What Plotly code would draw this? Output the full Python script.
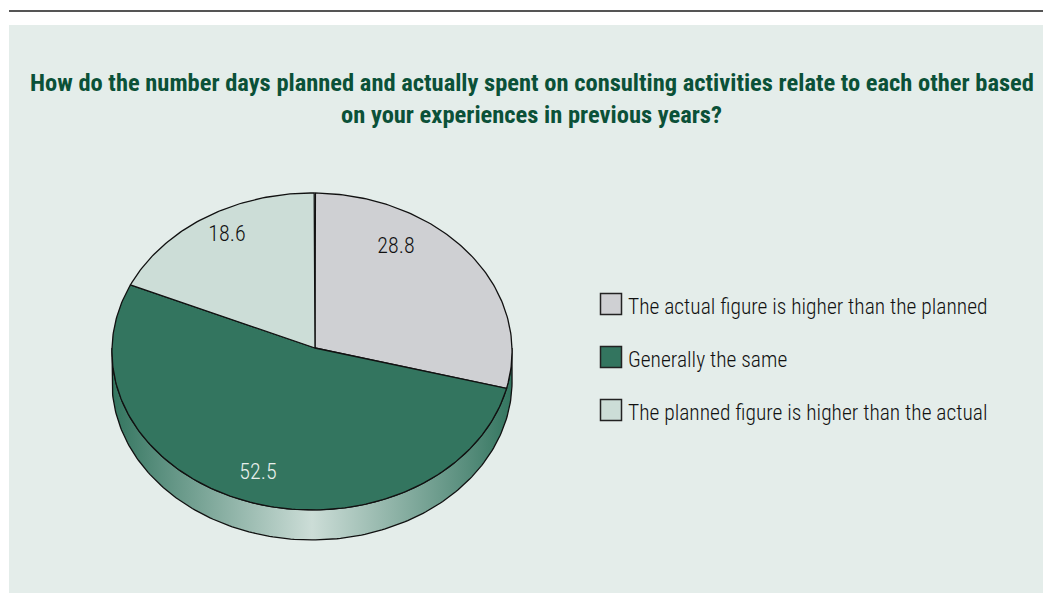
import math
import plotly.graph_objects as go

# Survey results, in percent
categories = [
    "The actual figure is higher than the planned",
    "Generally the same",
    "The planned figure is higher than the actual",
]
values = [28.8, 52.5, 18.6]
slice_colors = ["#CFD0D3", "#33755F", "#CCDDD7"]
label_colors = ["#111111", "#E8EFEC", "#111111"]
title_lines = [
    "How do the number days planned and actually spent on consulting activities relate to each other based",
    "on your experiences in previous years?",
]

# Canvas geometry of the tilted disc (axes run in canvas units)
W, H = 1043, 593
CX, CY = 312, 348
APEX = (315, 348)
RX, RY = 200, 158.4
TILT = 0.022
DEPTH = 30
START_DEG = 1.0
LABEL_XY = [(396, 247), (258, 473), (227, 235)]
LEGEND_X = 611
LEGEND_Y = [304, 357, 410]
TEXT_DROP = 4.5
INK = "#111111"
FONT = "Roboto Condensed"


def rim(theta_deg):
    """Point on the disc's rim; the angle runs clockwise from twelve o'clock."""
    t = math.radians(theta_deg)
    u, v = math.sin(t), -math.cos(t)
    w = 1 - TILT * v
    return CX + RX * u / w, CY + RY * v / w


def arc(a0, a1, step=1.0):
    n = max(2, int(abs(a1 - a0) / step) + 1)
    return [rim(a0 + (a1 - a0) * i / (n - 1)) for i in range(n)]


fig = go.Figure()

# Side wall of the disc, front half only
top_edge = arc(90, 270)
wall = top_edge + [(x, y + DEPTH) for x, y in reversed(top_edge)]
fig.add_trace(go.Scatter(
    x=[p[0] for p in wall] + [wall[0][0]],
    y=[p[1] for p in wall] + [wall[0][1]],
    mode="lines",
    fill="toself",
    fillgradient=dict(
        type="horizontal",
        colorscale=[[0, "#33755F"], [0.12, "#5A8F7E"], [0.5, "#CCDDD7"],
                    [0.88, "#5A8F7E"], [1, "#33755F"]],
    ),
    line=dict(color=INK, width=1.3),
    hoverinfo="skip",
    showlegend=False,
))

# Top face: one wedge per category, sized by its percentage
angle = START_DEG
for name, value, color in zip(categories, values, slice_colors):
    sweep = value * 3.6
    edge = arc(angle, angle + sweep)
    pts = [APEX] + edge + [APEX]
    fig.add_trace(go.Scatter(
        x=[p[0] for p in pts],
        y=[p[1] for p in pts],
        mode="lines",
        fill="toself",
        fillcolor=color,
        line=dict(color=INK, width=1.3),
        name=name,
        hoverinfo="name",
        showlegend=False,
    ))
    angle += sweep

# Value labels
fig.add_trace(go.Scatter(
    x=[p[0] for p in LABEL_XY],
    y=[p[1] for p in LABEL_XY],
    mode="text",
    text=[f"{v}" for v in values],
    textposition="middle center",
    textfont=dict(family=FONT, size=22, weight=300, color=label_colors),
    hoverinfo="skip",
    showlegend=False,
))

# Key to the right of the disc
fig.add_trace(go.Scatter(
    x=[LEGEND_X] * len(categories),
    y=LEGEND_Y,
    mode="markers",
    marker=dict(symbol="square", size=21, color=slice_colors,
                line=dict(color="#222222", width=1.5)),
    hoverinfo="skip",
    showlegend=False,
))
fig.add_trace(go.Scatter(
    x=[LEGEND_X + 17] * len(categories),
    y=[y + TEXT_DROP for y in LEGEND_Y],
    mode="text",
    text=categories,
    textposition="middle right",
    textfont=dict(family=FONT, size=21.5, weight=300, color="#111111"),
    hoverinfo="skip",
    showlegend=False,
))

for i, line in enumerate(title_lines):
    fig.add_annotation(
        x=531.5, y=82 + 32 * i, xref="x", yref="y",
        text=f"<b>{line}</b>", showarrow=False,
        xanchor="center", yanchor="middle",
        font=dict(family=FONT, size=24.5, color="#0B5138"),
    )

fig.update_layout(
    width=W, height=H,
    margin=dict(l=0, r=0, t=0, b=0),
    paper_bgcolor="white",
    plot_bgcolor="white",
    showlegend=False,
    xaxis=dict(range=[0, W], visible=False, fixedrange=True),
    yaxis=dict(range=[H, 0], visible=False, fixedrange=True),
    shapes=[
        dict(type="rect", x0=9, x1=W, y0=25, y1=H, layer="below",
             fillcolor="#E4EDEA", line=dict(width=0)),
        dict(type="line", x0=9, x1=W, y0=11, y1=11, layer="below",
             line=dict(color="#555555", width=2)),
    ],
)

fig.write_html("out.html")
